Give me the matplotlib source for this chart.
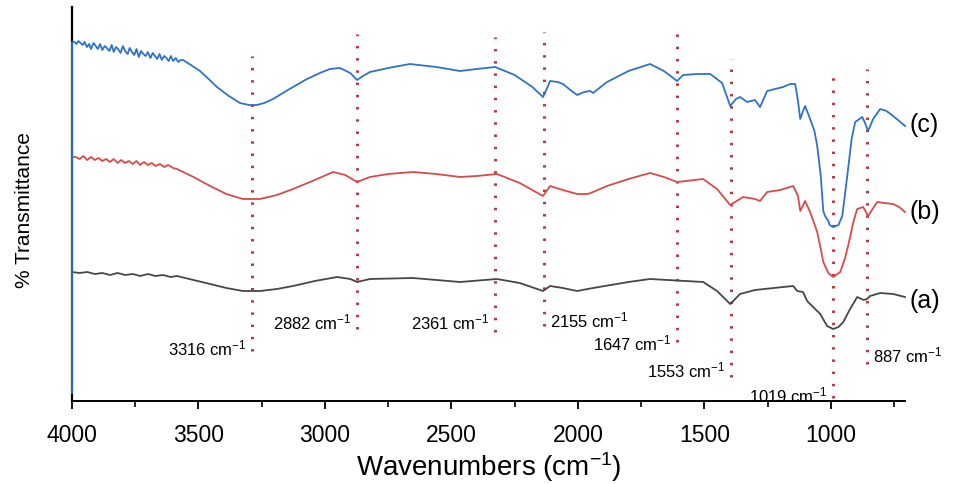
import matplotlib
matplotlib.use("Agg")
import matplotlib.pyplot as plt
import numpy as np

plt.rcParams['font.family'] = ['Liberation Sans', 'DejaVu Sans']
plt.rcParams['mathtext.fontset'] = 'custom'
plt.rcParams['mathtext.rm'] = 'Liberation Sans'
plt.rcParams['mathtext.it'] = 'Liberation Sans'

# ---- data (arbitrary transmittance units) ----
wn_c = [4000, 4000, 3990, 3982, 3975, 3966, 3958, 3950, 3941, 3932, 3925, 3915, 3906, 3898,
        3889, 3880, 3871, 3862, 3852, 3843, 3835, 3826, 3818, 3808, 3799, 3790, 3780, 3772,
        3763, 3754, 3745, 3736, 3727, 3718, 3709, 3700, 3690, 3681, 3672, 3663, 3654, 3645,
        3636, 3627, 3618, 3609, 3600, 3590, 3580, 3570, 3561, 3530, 3494, 3460, 3427, 3380,
        3336, 3300, 3269, 3240, 3205, 3140, 3071, 3020, 2980, 2940, 2900, 2873, 2850, 2822,
        2750, 2664, 2560, 2466, 2400, 2327, 2250, 2180, 2138, 2120, 2110, 2080, 2059, 2030,
        2003, 1975, 1952, 1940, 1885, 1800, 1715, 1660, 1608, 1584, 1530, 1477, 1430, 1398,
        1375, 1359, 1331, 1300, 1280, 1252, 1220, 1189, 1161, 1141, 1130, 1121, 1110, 1102,
        1082, 1065, 1054, 1040, 1030, 1023, 1010, 1005, 991, 970, 955, 945, 932, 918, 904,
        876, 865, 853, 843, 833, 805, 780, 754, 730, 707]
tr_c = [8, 359, 359, 357, 360, 358, 356, 359, 354, 357, 352, 358, 355, 352,
        357, 351, 355, 353, 350, 356, 349, 354, 352, 348, 355, 350, 347, 353,
        349, 346, 352, 344, 350, 347, 345, 349, 343, 348, 345, 342, 347, 341,
        345, 343, 340, 345, 340, 343, 339, 341, 341, 336, 330, 322, 314, 305,
        298, 296, 296, 298, 302, 312, 322, 328, 332, 333, 328, 321, 325, 329,
        333, 337, 334, 330, 332, 334, 326, 314, 304, 314, 320, 319, 317, 311,
        306, 309, 310, 308, 319, 330, 337, 330, 320, 326, 327, 327, 318, 295,
        302, 304, 299, 301, 294, 310, 312, 314, 317, 317, 300, 282, 290, 295,
        282, 270, 255, 225, 190, 185, 180, 176, 174, 176, 185, 205, 232, 262, 279,
        284, 278, 270, 276, 282, 292, 290, 285, 280, 275]

wn_b = [4000, 3985, 3970, 3955, 3940, 3925, 3910, 3895, 3880, 3865, 3850, 3835, 3820, 3805,
        3790, 3775, 3760, 3745, 3731, 3715, 3700, 3685, 3670, 3652, 3636, 3620, 3600, 3585,
        3520, 3454, 3390, 3324, 3257, 3190, 3126, 3040, 2968, 2920, 2873, 2822, 2750, 2652,
        2560, 2466, 2400, 2320, 2230, 2138, 2110, 2060, 2003, 1960, 1940, 1885, 1800, 1715,
        1660, 1608, 1505, 1450, 1398, 1347, 1300, 1280, 1252, 1200, 1149, 1130, 1121, 1102,
        1082, 1054, 1040, 1030, 1010, 991, 963, 945, 932, 910, 896, 872, 853, 835, 817,
        790, 754, 730, 707]
tr_b = [244, 244, 242, 245, 241, 244, 241, 243, 240, 242, 239, 242, 238, 241,
        238, 240, 237, 240, 236, 239, 236, 238, 235, 237, 234, 236, 233, 232,
        224, 215, 207, 202, 202, 206, 212, 221, 229, 226, 219, 224, 227, 229,
        227, 224, 225, 227, 218, 205, 215, 211, 207, 207, 209, 215, 222, 228,
        224, 219, 222, 212, 196, 204, 202, 200, 209, 211, 215, 205, 190, 200,
        189, 169, 152, 139, 128, 124, 129, 142, 155, 180, 192, 194, 185, 192, 199,
        198, 197, 194, 189]

wn_a = [4000, 3970, 3940, 3910, 3880, 3850, 3820, 3790, 3760, 3730, 3700, 3670, 3640, 3610,
        3585, 3520, 3454, 3390, 3324, 3257, 3190, 3126, 3040, 2952, 2900, 2873, 2822, 2652,
        2466, 2320, 2230, 2138, 2110, 2060, 2003, 1940, 1800, 1715, 1505, 1450, 1398, 1359,
        1300, 1189, 1149, 1133, 1110, 1094, 1070, 1042, 1015, 991, 970, 951, 924, 896, 870,
        857, 845, 805, 754, 707]
tr_a = [129, 128, 129, 127, 128, 126, 128, 126, 127, 125, 127, 125, 126, 124,
        125, 121, 117, 113, 110, 110, 112, 115, 120, 124, 122, 119, 122, 123,
        119, 122, 118, 110, 115, 113, 110, 113, 119, 122, 119, 110, 97, 107,
        111, 114, 115, 110, 109, 100, 94, 87, 75, 72, 74, 79, 92, 104, 101,
        102, 105, 108, 107, 104]

series_names = ['(a)', '(b)', '(c)']

# peak marker lines: drawn position, top, bottom, label
peak_pos = [3288, 2873, 2327, 2134, 1608, 1394, 991, 857]
peak_top = [345, 367, 364, 369, 367, 342, 324, 332]
peak_bot = [50, 72, 69, 75, 59, 24, 3, 37]
peak_labels = ['3316', '2882', '2361', '2155', '1647', '1553', '1019', '887']
label_side = ['left', 'left', 'left', 'right', 'left', 'left', 'left', 'right']
label_y = [54, 80, 80, 82, 59, 32, 7, 47]

xticks = [4000, 3500, 3000, 2500, 2000, 1500, 1000]

# ---- figure ----
fig = plt.figure(figsize=(9.55, 4.85), dpi=100)
ax = fig.add_axes([72/955, (485-402)/485, (905-72)/955, (402-8)/485])

c_blue = '#2f73c8'
c_red = '#d94a4a'
c_gray = '#474747'
c_dot = '#b83a3f'

for x, t, b in zip(peak_pos, peak_top, peak_bot):
    ax.plot([x, x], [b, t], color=c_dot, lw=2.2, linestyle=(0, (0.8, 3.2)),
            solid_capstyle='butt', zorder=1)

ax.plot(wn_a, tr_a, color=c_gray, lw=1.3, zorder=3, clip_on=False)
ax.plot(wn_b, tr_b, color=c_red, lw=1.3, zorder=3, clip_on=False)
ax.plot(wn_c, tr_c, color=c_blue, lw=1.3, zorder=3, clip_on=False)

# series labels
ax.text(688, 277, series_names[2], fontsize=18, va='center', ha='left')
ax.text(688, 190, series_names[1], fontsize=18, va='center', ha='left')
ax.text(688, 101, series_names[0], fontsize=18, va='center', ha='left')

for x, lab, side, y in zip(peak_pos, peak_labels, label_side, label_y):
    if side == 'left':
        ax.text(x + 22, y, lab + r' cm$^{-1}$', fontsize=12, ha='right', va='center')
    else:
        ax.text(x - 22, y, lab + r' cm$^{-1}$', fontsize=12, ha='left', va='center')

ax.set_xlim(4000, 707)
ax.set_ylim(0, 394)
ax.set_xticks(xticks)
ax.set_xticks(np.arange(3750, 700, -500), minor=True)
ax.tick_params(axis='x', which='major', direction='out', length=6, width=1.3,
               labelsize=16.5, pad=10)
ax.tick_params(axis='x', which='minor', direction='out', length=4, width=1.2)
ax.set_yticks([])
for s in ['top', 'right']:
    ax.spines[s].set_visible(False)
ax.spines['left'].set_linewidth(1.6)
ax.spines['bottom'].set_linewidth(1.4)
ax.spines['left'].set_zorder(2)

ax.set_xlabel(r'Wavenumbers (cm$^{-1}$)', fontsize=20, labelpad=2)
fig.text(24/955, 1 - 210/485, '% Transmittance', rotation=90, fontsize=15,
         ha='center', va='center')

fig.savefig('out.png', dpi=100)
